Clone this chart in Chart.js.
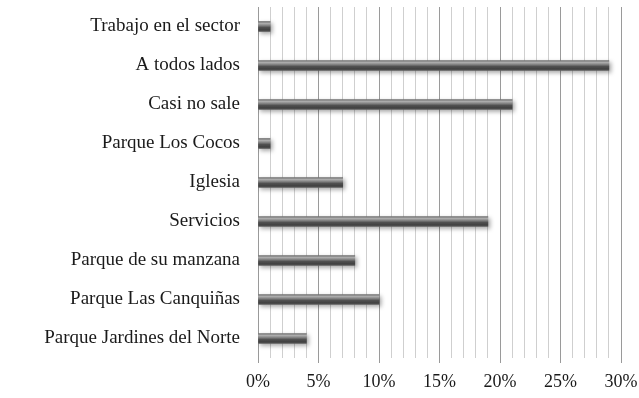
<!DOCTYPE html>
<html>
<head>
<meta charset="utf-8">
<script src="https://cdn.jsdelivr.net/npm/chart.js@4"></script>
<style>
  html, body { margin: 0; padding: 0; background: #fff; }
  #wrap { width: 639px; height: 398px; position: relative; }
</style>
</head>
<body>
<div id="wrap"><canvas id="lugares"></canvas></div>
<script>
const categorias = [
    'Trabajo en el sector',
    'A todos lados',
    'Casi no sale',
    'Parque Los Cocos',
    'Iglesia',
    'Servicios',
    'Parque de su manzana',
    'Parque Las Canquiñas',
    'Parque Jardines del Norte'
];
const porcentajes = [1, 29, 21, 1, 7, 19, 8, 10, 4];
const ejeMax = 30;
const pasoMarcas = 5;

const familia = "'Liberation Serif', 'Times New Roman', serif";

// sombreado tipo cilindro para cada barra
function degradado(context) {
    const chart = context.chart;
    const yScale = chart.scales && chart.scales.y;
    if (!chart.chartArea || !yScale) return '#555';
    const yc = yScale.getPixelForValue(context.dataIndex);
    const g = chart.ctx.createLinearGradient(0, yc - 5, 0, yc + 5);
    g.addColorStop(0, '#737373');
    g.addColorStop(0.2, '#ababab');
    g.addColorStop(0.35, '#8e8e8e');
    g.addColorStop(0.6, '#505050');
    g.addColorStop(0.85, '#404040');
    g.addColorStop(1, '#5e5e5e');
    return g;
}

const sombra = {
    id: 'sombra',
    beforeDatasetsDraw(chart) {
        const c = chart.ctx;
        c.save();
        c.shadowColor = 'rgba(0,0,0,0.35)';
        c.shadowBlur = 4;
        c.shadowOffsetX = 2;
        c.shadowOffsetY = 2;
    },
    afterDatasetsDraw(chart) {
        chart.ctx.restore();
    }
};

const ctx = document.getElementById('lugares').getContext('2d');
new Chart(ctx, {
    type: 'bar',
    data: {
        labels: categorias,
        datasets: [{
            data: porcentajes,
            backgroundColor: degradado,
            borderWidth: 0,
            barThickness: 10
        }]
    },
    plugins: [sombra],
    options: {
        indexAxis: 'y',
        responsive: true,
        maintainAspectRatio: false,
        animation: false,
        layout: { padding: { top: 7, right: 18, left: 0, bottom: 0 } },
        scales: {
            x: {
                min: 0,
                max: ejeMax,
                border: { display: false },
                grid: {
                    color: function (c) {
                        return c.tick && c.tick.value % pasoMarcas === 0 ? '#9a9a9a' : '#cfcfcf';
                    },
                    tickColor: function (c) {
                        return c.tick && c.tick.value % pasoMarcas === 0 ? '#9a9a9a' : 'rgba(0,0,0,0)';
                    },
                    lineWidth: 1,
                    tickLength: 5
                },
                ticks: {
                    stepSize: 1,
                    autoSkip: false,
                    maxRotation: 0,
                    padding: 8,
                    color: '#1a1a1a',
                    font: { family: familia, size: 18 },
                    callback: function (v) { return v % pasoMarcas === 0 ? v + '%' : ''; }
                },
                afterFit: function (scale) {
                    scale.height = 40;
                    // la etiqueta "30%" puede salirse del área, no reservar espacio extra
                    scale.paddingLeft = 0;
                    scale.paddingRight = 0;
                }
            },
            y: {
                border: { display: false },
                // marcas invisibles para separar las etiquetas del eje
                grid: { display: true, drawOnChartArea: false, drawTicks: true, tickLength: 18, color: 'rgba(0,0,0,0)' },
                ticks: {
                    color: '#1a1a1a',
                    font: { family: familia, size: 19, lineHeight: 0.7 },
                    padding: 0
                },
                afterFit: function (scale) { scale.width = 258; }
            }
        },
        plugins: {
            legend: { display: false },
            tooltip: { enabled: false }
        }
    }
});
</script>
</body>
</html>
